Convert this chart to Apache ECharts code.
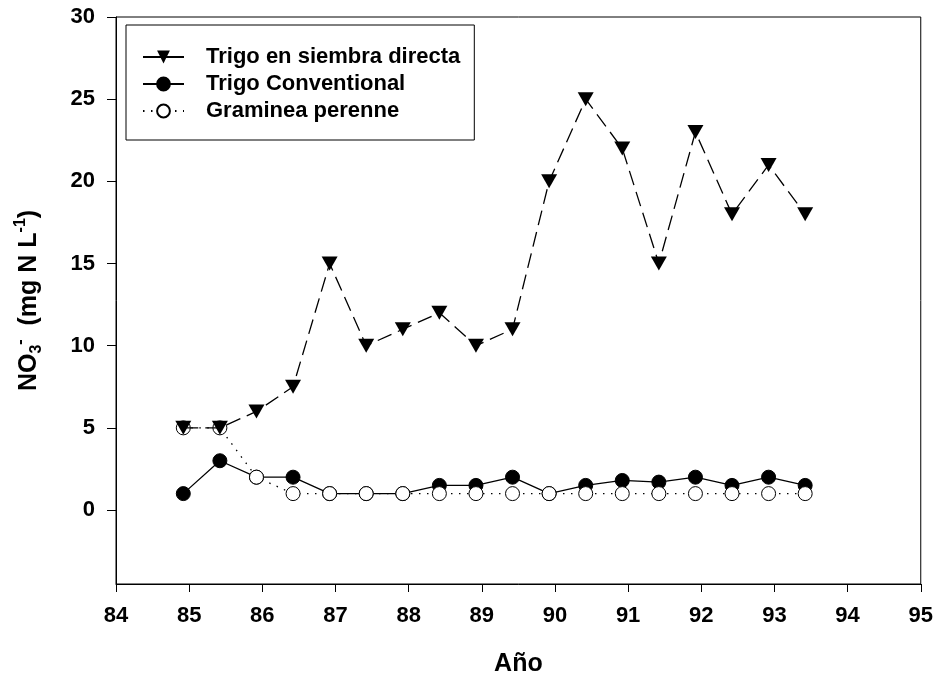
<!DOCTYPE html>
<html>
<head>
<meta charset="utf-8">
<script src="https://cdn.jsdelivr.net/npm/echarts@6/dist/echarts.min.js"></script>
<style>
  html, body { margin: 0; padding: 0; background: #fff; }
  #chart { width: 936px; height: 682px; }
</style>
</head>
<body>
<div id="chart"></div>
<script>
// Sampling dates (fractional year, two samples per year)
const years = [84.92, 85.42, 85.92, 86.42, 86.92, 87.42, 87.92, 88.42, 88.92,
               89.42, 89.92, 90.42, 90.92, 91.42, 91.92, 92.42, 92.92, 93.42];

// Nitrate concentration, mg N per litre
const siembraDirecta = [5, 5, 6, 7.5, 15, 10, 11, 12, 10, 11, 20, 25, 22, 15, 23, 18, 21, 18];
const convencional   = [1, 3, 2, 2, 1, 1, 1, 1.5, 1.5, 2, 1, 1.5, 1.8, 1.7, 2, 1.5, 2, 1.5];
const graminea       = [5, 5, 2, 1, 1, 1, 1, 1, 1, 1, 1, 1, 1, 1, 1, 1, 1, 1];

const seriesNames = ['Trigo en siembra directa', 'Trigo Conventional', 'Graminea perenne'];
const yTicks = [0, 5, 10, 15, 20, 25, 30];
const xTicks = [84, 85, 86, 87, 88, 89, 90, 91, 92, 93, 94, 95];

const pairs = (xs, ys) => xs.map((x, i) => [x, ys[i]]);
const FONT = "'Liberation Sans', Arial, sans-serif";

const chart = echarts.init(document.getElementById('chart'), null, { renderer: 'canvas' });

chart.setOption({
  animation: false,
  backgroundColor: '#fff',
  grid: {
    left: 116, right: 8, top: 17, bottom: 95,
    show: true, borderColor: '#000', borderWidth: 1
  },
  legend: {
    data: [
      { name: seriesNames[0], lineStyle: { type: 'solid' } },
      { name: seriesNames[1] },
      { name: seriesNames[2] }
    ],
    orient: 'vertical',
    left: 126, top: 25,
    padding: [21, 14, 18, 16],
    itemWidth: 41, itemHeight: 16, itemGap: 5,
    borderColor: '#000', borderWidth: 1,
    backgroundColor: '#fff',
    selectedMode: false,
    textStyle: { fontFamily: FONT, fontWeight: 'bold', fontSize: 22, color: '#000', padding: [0, 0, 0, 17] }
  },
  xAxis: {
    type: 'value',
    min: 84, max: 95, interval: 1,
    name: 'Año',
    nameLocation: 'middle',
    nameGap: 68,
    nameTextStyle: { fontFamily: FONT, fontWeight: 'bold', fontSize: 25, color: '#000' },
    axisLine: { show: true, onZero: false, lineStyle: { color: '#000', width: 1 } },
    axisTick: { show: true, inside: false, length: 8, lineStyle: { color: '#000' },
                customValues: xTicks },
    axisLabel: { fontFamily: FONT, fontWeight: 'bold', fontSize: 22, color: '#000', margin: 21,
                 customValues: xTicks, showMinLabel: true, showMaxLabel: true },
    splitLine: { show: false }
  },
  yAxis: {
    type: 'value',
    min: -4.5, max: 30,
    name: '{t|NO}{sub|3}{sup|-}{t|  (mg N L}{sup|-1}{t|)}',
    nameLocation: 'middle',
    nameRotate: 90,
    nameGap: 71,
    nameTextStyle: {
      fontFamily: FONT, color: '#000',
      rich: {
        t:   { fontFamily: FONT, fontWeight: 'bold', fontSize: 25, lineHeight: 32, color: '#000' },
        sub: { fontFamily: FONT, fontWeight: 'bold', fontSize: 16, lineHeight: 15, verticalAlign: 'bottom', color: '#000' },
        sup: { fontFamily: FONT, fontWeight: 'bold', fontSize: 16, lineHeight: 15, verticalAlign: 'top', color: '#000' }
      }
    },
    axisLine: { show: true, onZero: false, lineStyle: { color: '#000', width: 1 } },
    axisTick: { show: true, inside: false, length: 9, lineStyle: { color: '#000' },
                customValues: yTicks },
    axisLabel: { fontFamily: FONT, fontWeight: 'bold', fontSize: 22, color: '#000', margin: 21,
                 customValues: yTicks },
    splitLine: { show: false }
  },
  series: [
    {
      name: seriesNames[1],
      type: 'line',
      data: pairs(years, convencional),
      z: 2,
      symbol: 'circle', symbolSize: 14,
      itemStyle: { color: '#000', borderColor: '#000', borderWidth: 1 },
      lineStyle: { color: '#000', width: 1.3, type: 'solid' }
    },
    {
      name: seriesNames[2],
      type: 'line',
      data: pairs(years, graminea),
      z: 3,
      symbol: 'circle', symbolSize: 14,
      itemStyle: { color: '#fff', borderColor: '#000', borderWidth: 1 },
      lineStyle: { color: '#000', width: 1.3, type: [1.5, 6.5] }
    },
    {
      name: seriesNames[0],
      type: 'line',
      data: pairs(years, siembraDirecta),
      z: 4,
      symbol: 'triangle', symbolSize: [16, 14], symbolRotate: 180,
      itemStyle: { color: '#000', borderColor: '#000', borderWidth: 0 },
      lineStyle: { color: '#000', width: 1.3, type: [15, 7] }
    }
  ]
});
</script>
</body>
</html>
